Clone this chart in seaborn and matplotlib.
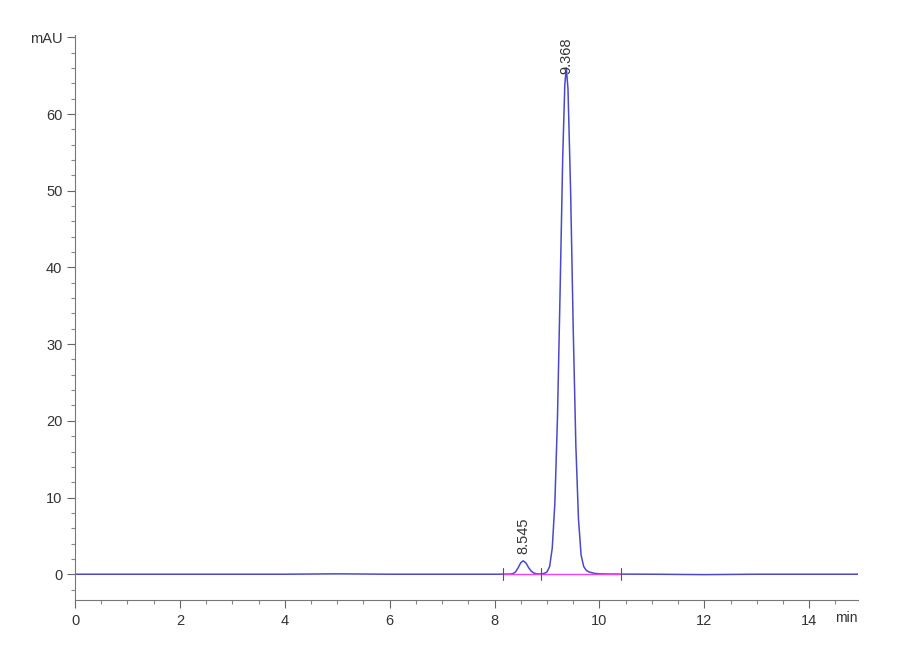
import numpy as np
import pandas as pd
import matplotlib
matplotlib.use("Agg")
import matplotlib.pyplot as plt
from matplotlib.ticker import MultipleLocator, FixedLocator
import seaborn as sns

# chromatogram trace (min, mAU)
time_min = [0.0, 2.0, 4.0, 5.0, 6.0, 7.0, 8.0, 8.30, 8.35, 8.40, 8.45, 8.50, 8.545,
            8.60, 8.65, 8.70, 8.75, 8.80, 8.85, 8.90, 8.95, 9.00, 9.05, 9.10, 9.15,
            9.20, 9.25, 9.30, 9.34, 9.368, 9.40, 9.45, 9.50, 9.55, 9.60, 9.65, 9.70,
            9.75, 9.80, 9.90, 10.0, 10.2, 11.0, 12.0, 13.0, 14.0, 15.0]
signal_mau = [0.0, 0.0, 0.0, 0.05, 0.0, 0.0, 0.0, 0.02, 0.08, 0.3, 0.85, 1.5, 1.75,
              1.45, 0.85, 0.4, 0.15, 0.06, 0.03, 0.05, 0.12, 0.3, 1.0, 3.4, 9.3,
              20.5, 37.0, 54.5, 63.9, 66.0, 63.3, 50.0, 32.0, 16.8, 7.2, 2.5, 1.0,
              0.5, 0.3, 0.12, 0.05, 0.02, 0.0, -0.05, 0.0, 0.0, 0.0]

# integrated peaks
peak_rt = [8.545, 9.368]
peak_height = [1.75, 66.0]
peak_labels = ["8.545", "9.368"]

# integration baselines (start, end) and their boundary marks
base_start = [8.17, 8.89]
base_end = [8.89, 10.41]
marks = [8.17, 8.89, 10.41]

df = pd.DataFrame({"t": time_min, "y": signal_mau})

sns.set_style("ticks")
plt.rcParams["font.family"] = ["Liberation Sans", "DejaVu Sans"]

fig = plt.figure(figsize=(9, 6.6), dpi=100)
ax = fig.add_axes([75 / 900, 60 / 660, 783 / 900, 565 / 660])

sns.lineplot(data=df, x="t", y="y", ax=ax, color="#4a4ac8", linewidth=1.1)

for s, e in zip(base_start, base_end):
    ax.plot([s, e], [0, 0], color="#f040f0", linewidth=1.0)
for m in marks:
    ax.plot([m, m], [-0.8, 0.8], color="#555555", linewidth=0.8)

for rt, h, lab in zip(peak_rt, peak_height, peak_labels):
    off = 0.9 if h < 10 else -0.8
    ax.text(rt, h + off, lab, rotation=90, ha="center", va="bottom",
            fontsize=10.5, color="#333333", clip_on=False)

ax.set_xlim(0, 14.93)
ax.set_ylim(-3.36, 70.3)
ax.xaxis.set_major_locator(FixedLocator([0, 2, 4, 6, 8, 10, 12, 14]))
ax.xaxis.set_minor_locator(MultipleLocator(0.5))
ax.yaxis.set_major_locator(FixedLocator([0, 10, 20, 30, 40, 50, 60, 70]))
ax.set_yticklabels(["0", "10", "20", "30", "40", "50", "60", "mAU"])
ax.yaxis.set_minor_locator(MultipleLocator(2))
ax.tick_params(which="major", length=6, width=0.8, color="#666666",
               labelsize=10.5, labelcolor="#333333")
ax.tick_params(which="minor", length=3, width=0.8, color="#888888")
ax.tick_params(axis="x", pad=4)
ax.tick_params(axis="y", pad=3)
ax.text(14.93, -3.36 - 2.35, "min", ha="right", va="center", fontsize=10,
        color="#333333", clip_on=False)

for side in ["top", "right"]:
    ax.spines[side].set_visible(False)
for side in ["left", "bottom"]:
    ax.spines[side].set_color("#777777")
    ax.spines[side].set_linewidth(0.8)

ax.set_xlabel("")
ax.set_ylabel("")

fig.savefig("out.png", dpi=100)
